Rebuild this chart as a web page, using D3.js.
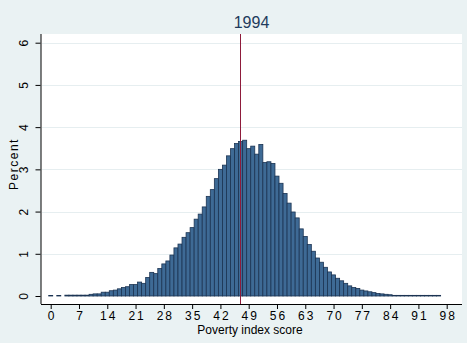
<!DOCTYPE html>
<html>
<head>
<meta charset="utf-8">
<script src="https://cdn.jsdelivr.net/npm/d3@7/dist/d3.min.js"></script>
<style>
  body { margin: 0; background: #eaf2f3; }
  svg { display: block; font-family: "Liberation Sans", Arial, sans-serif; }
</style>
</head>
<body>
<svg id="chart"></svg>
<script>
// poverty index score (bar centre) and percent of households
const scores = d3.range(0, 97);
const percents = [
  0.01, 0, 0.01, 0, 0.02, 0.02, 0.02, 0.02, 0.02, 0.02,
  0.04, 0.05, 0.05, 0.09, 0.09, 0.125, 0.14, 0.17, 0.20, 0.22,
  0.27, 0.27, 0.33, 0.30, 0.44, 0.56, 0.53, 0.65, 0.76, 0.83,
  0.97, 1.14, 1.23, 1.39, 1.50, 1.62, 1.82, 1.94, 2.11, 2.36,
  2.52, 2.78, 3.00, 3.10, 3.32, 3.49, 3.61, 3.66, 3.69, 3.49,
  3.55, 3.36, 3.59, 3.16, 3.18, 3.14, 2.84, 2.67, 2.43, 2.20,
  1.99, 1.85, 1.59, 1.41, 1.22, 1.06, 0.90, 0.80, 0.68, 0.57,
  0.50, 0.42, 0.36, 0.30, 0.24, 0.20, 0.18, 0.14, 0.12, 0.10,
  0.08, 0.06, 0.05, 0.04, 0.03, 0.015, 0.015, 0.015, 0.015, 0.015,
  0.015, 0.015, 0.015, 0.015, 0.015, 0.015, 0.015
];
const meanScore = 46.9;
const xTicks = [0, 7, 14, 21, 28, 35, 42, 49, 56, 63, 70, 77, 84, 91, 98];
const yTicks = [0, 1, 2, 3, 4, 5, 6];
const titleText = "1994";

const width = 467, height = 343;
const plot = { left: 41, right: 462, top: 34, bottom: 304 };

const svg = d3.select("#chart").attr("width", width).attr("height", height);

svg.append("rect").attr("width", width).attr("height", height).attr("fill", "#eaf2f3");
svg.append("rect")
  .attr("x", plot.left).attr("y", plot.top)
  .attr("width", plot.right - plot.left).attr("height", plot.bottom - plot.top)
  .attr("fill", "white");

const x = d3.scaleLinear().domain([0, 98]).range([50.7, 446.7]);
const y = d3.scaleLinear().domain([0, 6]).range([296, 42.7]);

// gridlines
svg.append("g")
  .selectAll("line")
  .data(yTicks.filter((d) => d > 0))
  .enter().append("line")
  .attr("x1", plot.left + 1).attr("x2", plot.right)
  .attr("y1", (d) => Math.round(y(d)) + 0.5).attr("y2", (d) => Math.round(y(d)) + 0.5)
  .attr("stroke", "#e6eef0").attr("stroke-width", 1);

const data = scores.map((s, i) => ({ score: s, pct: percents[i] }));

// histogram bars
svg.append("g")
  .selectAll("rect")
  .data(data.filter((d) => d.pct > 0))
  .enter().append("rect")
  .attr("x", (d) => x(d.score - 0.5))
  .attr("width", (d) => x(d.score + 0.5) - x(d.score - 0.5))
  .attr("y", (d) => y(d.pct))
  .attr("height", (d) => y(0) - y(d.pct))
  .attr("fill", "#3e6a95")
  .attr("stroke", "#1b3352")
  .attr("stroke-width", 0.8);

// mean line
svg.append("line")
  .attr("x1", Math.round(x(meanScore)) + 0.5).attr("x2", Math.round(x(meanScore)) + 0.5)
  .attr("y1", plot.top).attr("y2", plot.bottom)
  .attr("stroke", "#8e1b3b").attr("stroke-width", 1);

// axes
const xAxis = d3.axisBottom(x).tickValues(xTicks).tickSize(5).tickPadding(2);
const gx = svg.append("g").attr("transform", `translate(0,${plot.bottom})`).call(xAxis);
gx.select(".domain").attr("d", `M${plot.left},0.5H${plot.right}`).attr("stroke", "black");
gx.selectAll(".tick line").attr("stroke", "black");
gx.selectAll(".tick text")
  .attr("font-size", 12).attr("fill", "black")
  .attr("font-family", "Liberation Sans, Arial, sans-serif")
  .style("letter-spacing", "2px").attr("dx", 1);

const yAxis = d3.axisLeft(y).tickValues(yTicks).tickFormat(d3.format("d")).tickSize(5).tickPadding(0);
const gy = svg.append("g").attr("transform", `translate(${plot.left - 0.5},0)`).call(yAxis);
gy.select(".domain").attr("d", `M0.5,${plot.top}V${plot.bottom}`).attr("stroke", "black");
gy.selectAll(".tick line").attr("stroke", "black");
gy.selectAll(".tick text")
  .attr("font-size", 12).attr("fill", "black")
  .attr("font-family", "Liberation Sans, Arial, sans-serif")
  .attr("x", null).attr("dy", null)
  .attr("text-anchor", "middle")
  .attr("transform", "translate(-13,0) rotate(-90)");

// titles
svg.append("text")
  .attr("x", (plot.left + plot.right) / 2).attr("y", 28)
  .attr("text-anchor", "middle").attr("font-size", 16)
  .attr("fill", "#1e3b5c").text(titleText);

svg.append("text")
  .attr("x", 250).attr("y", 334)
  .attr("text-anchor", "middle").attr("font-size", 12)
  .text("Poverty index score");

svg.append("text")
  .attr("transform", "translate(18,164) rotate(-90)")
  .attr("text-anchor", "middle").attr("font-size", 12)
  .style("letter-spacing", "1.5px")
  .text("Percent");
</script>
</body>
</html>
